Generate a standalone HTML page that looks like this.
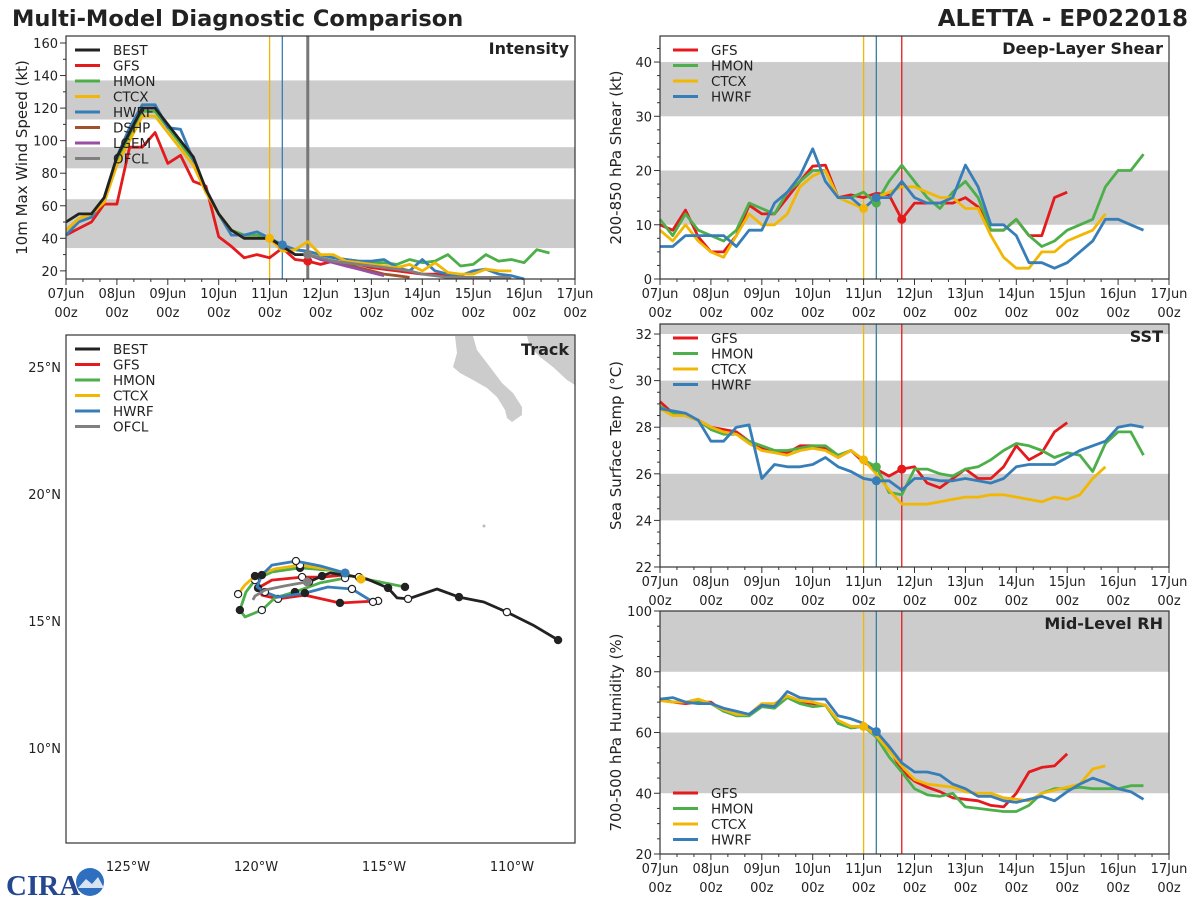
<!DOCTYPE html>
<html><head><meta charset="utf-8"><style>
body{margin:0;background:#fff;width:1200px;height:900px;overflow:hidden;font-family:"Liberation Sans","DejaVu Sans",sans-serif}
svg text{font-family:"DejaVu Sans","Liberation Sans",sans-serif;fill:#222}
svg text.logo{fill:#24478f;font-family:"Liberation Serif",serif}
</style></head><body>
<svg id="chart" width="1200" height="900" viewBox="0 0 1200 900" xmlns="http://www.w3.org/2000/svg">
<text x="12" y="26" font-size="22.5" font-weight="bold">Multi-Model Diagnostic Comparison</text>
<text x="1188" y="26" font-size="23" font-weight="bold" text-anchor="end">ALETTA - EP022018</text>
<g>
<text class="logo" x="6" y="895" font-size="29" font-weight="bold">CIRA</text>
<circle cx="90" cy="882" r="14" fill="#2f6fc0"/>
<path d="M78 888 L86 879 L92 884 L98 877 L104 888 Z" fill="#d8e4f4"/>
</g>
</svg>
<script>
// ---- data ----
const days = ["07Jun","08Jun","09Jun","10Jun","11Jun","12Jun","13Jun","14Jun","15Jun","16Jun","17Jun"];
const intBEST = [50,55,55,65,90,105,120,120,110,100,90,70,55,45,40,40,40,35,30,30];
const intGFS = [42,46,50,61,61,96,96,105,86,91,75,72,41,35,28,30,28,34,27,26,24,26,25,24,22,21,20,19,18,18,17,16,16,16];
const intHMON = [45,52,55,65,88,103,118,118,108,98,88,70,55,45,42,42,40,35,33,32,30,28,27,26,25,25,24,27,25,26,30,23,24,30,26,27,25,33,31];
const intCTCX = [45,52,55,62,85,100,115,115,105,95,85,68,55,45,40,40,40,32,33,38,30,30,26,25,24,23,22,24,20,25,19,18,18,21,20,20];
const intHWRF = [42,50,53,65,90,108,122,122,108,107,88,70,55,42,42,44,40,36,33,32,30,28,27,26,26,27,22,20,27,20,18,17,20,21,18,17,15];
const intDSHP = [30,28,26,24,22,20,18,17,16];
const intLGEM = [30,27,25,23,21,19,17];
const intOFCL = [30,28,26,25,24,23,22,21,20,18,17,16,16,16,16,16,16];
const shrGFS = [10,9,12.7,7.8,5,5,8,13.6,12,12,15,18,20.8,21,15,15.5,15,15.8,15.5,11,14,14,14,14,15,13.3,9,9,11,8,8,15,16];
const shrHMON = [11,8,12,9,8,7,9,14,13,12,16,18,20,20,15,15,16,14,18,21,18,15,13,16,18,15,9,9,11,8,6,7,9,10,11,17,20,20,23];
const shrCTCX = [9,7,10,7,5,4,8,12,10,10,12,17,19,20,15,14,13,15,16,17,17,16,15,15,13,13,8,4,2,2,5,5,7,8,9,12];
const shrHWRF = [6,6,8,8,8,8,6,9,9,14,16,19,24,18,15,15,13,15,15,18,15,14,14,15,21,17,10,10,8,3,3,2,3,5,7,11,11,10,9];
const sstGFS = [29.1,28.6,28.5,28.3,28.0,27.9,27.8,27.4,27.1,27.0,26.9,27.2,27.2,27.1,26.7,27.0,26.5,26.2,25.9,26.2,26.3,25.6,25.4,25.8,26.2,25.8,25.8,26.3,27.2,26.6,26.9,27.8,28.2];
const sstHMON = [28.9,28.6,28.5,28.3,27.9,27.7,27.7,27.4,27.2,27.0,27.0,27.1,27.2,27.2,26.8,27.0,26.6,26.3,25.2,25.1,26.2,26.2,26.0,25.9,26.2,26.3,26.6,27.0,27.3,27.2,27.0,26.7,26.9,26.8,26.1,27.3,27.8,27.8,26.8];
const sstCTCX = [28.8,28.5,28.5,28.3,28.0,27.8,27.7,27.3,27.0,26.9,26.8,27.0,27.1,27.0,26.7,27.0,26.6,26.0,25.3,24.7,24.7,24.7,24.8,24.9,25.0,25.0,25.1,25.1,25.0,24.9,24.8,25.0,24.9,25.1,25.8,26.3];
const sstHWRF = [28.8,28.7,28.6,28.3,27.4,27.4,28.0,28.1,25.8,26.4,26.3,26.3,26.4,26.7,26.3,26.1,25.8,25.7,25.7,25.3,25.8,25.8,25.7,25.7,25.8,25.7,25.6,25.8,26.3,26.4,26.4,26.4,26.7,27.0,27.2,27.4,28.0,28.1,28.0];
const rhGFS = [71,70,69.5,70,70,67,66,66,69,69,72,70,69.5,69,63.5,61.5,62,59,55,47.5,44,42,40.5,38.5,38,37.5,36,35.5,40,47,48.5,49,53];
const rhHMON = [71,70,70,70,69.5,67,65.5,65.5,68.5,68,71.5,69.5,68.5,69,63,61.5,62,58.5,52,47,41.5,39.5,39,40,35.5,35,34.5,34,34,36,40,41.5,41.5,42,41.5,41.5,41.5,42.5,42.5];
const rhCTCX = [70.5,70,70,71,69.5,67.5,66,66,69.5,69.5,72,70.5,70,69,64,62,62,59,54,49,44.5,43,42.5,42,40.5,40,40,38.5,38,37.5,40,41,42,43,48,49];
const rhHWRF = [71,71.5,70,69.5,69.5,68,67,66,69,68.5,73.5,71.5,71,71,65.5,64.5,63,60.3,55.5,50,47,47,46,43,41.5,39,39,37.5,37,38,39,37.5,40.5,43,45,43.5,41.5,40.5,38];
const trkBESTlon = [-108.2,-109.18,-110.2,-111.1,-112.07,-112.93,-114.06,-114.49,-114.84,-115.66,-115.98,-117.11,-117.42,-117.93];
const trkBESTlat = [14.25,14.84,15.35,15.75,15.94,16.26,15.87,15.91,16.30,16.65,16.73,16.89,16.77,16.54];
const trkGFSlon = [-116.52,-117.42,-118.2,-119.38,-119.92,-119.77,-119.14,-118.09,-116.72,-115.23];
const trkGFSlat = [16.81,16.73,16.73,16.61,16.3,16.02,15.87,16.02,15.71,15.79];
const trkHMONlon = [-114.18,-115.16,-115.94,-117.11,-118.28,-119.38,-120.04,-120.39,-120.63,-120.43,-119.77,-119.26,-118.48,-117.5,-116.52];
const trkHMONlat = [16.34,16.54,16.69,17.0,17.09,16.93,16.61,16.14,15.43,15.16,15.43,15.91,16.14,16.5,16.69];
const trkCTCXlon = [-115.9,-116.91,-118.28,-119.26,-120.04,-120.43,-120.7];
const trkCTCXlat = [16.65,17.0,17.2,17.05,16.77,16.42,16.06];
const trkHWRFlon = [-116.52,-117.5,-118.44,-119.38,-119.77,-119.96,-119.65,-119.14,-118.09,-117.19,-116.25,-115.43];
const trkHWRFlat = [16.89,17.17,17.36,17.2,16.81,16.34,16.14,15.94,16.1,16.34,16.26,15.75];
const trkOFCLlon = [-118.0,-118.87,-119.65,-120.04,-120.12];
const trkOFCLlat = [16.54,16.38,16.22,15.98,15.83];

const C = {BEST:"#222222",GFS:"#e41a1c",HMON:"#4daf4a",CTCX:"#f2b705",HWRF:"#377eb8",DSHP:"#a0522d",LGEM:"#984ea3",OFCL:"#808080"};
const NS = "http://www.w3.org/2000/svg";
const svg = document.getElementById('chart');
function mk(tag, attrs, parent){const e=document.createElementNS(NS,tag);for(const k in attrs)e.setAttribute(k,attrs[k]);(parent||svg).appendChild(e);return e;}

function makePanel(name, x0, y0, w, h, ymin, ymax, bands, major, minor, fmt, ytitle, title, xlabY){
  const g = mk('g',{});
  
  
  const xs = i => x0 + i * w / 40;
  const ys = v => y0 + h - (v - ymin) / (ymax - ymin) * h;
  bands.forEach(b => {
    const r = mk('rect',{x:x0,y:ys(Math.min(b[1],ymax)),width:w,height:ys(b[0])-ys(Math.min(b[1],ymax)),fill:"#cccccc"},g);
    
    
  });
  for(let v = Math.ceil(ymin/minor)*minor; v <= ymax+1e-6; v += minor){
    const isMaj = Math.abs(v/major - Math.round(v/major)) < 1e-6;
    mk('line',{x1:x0-(isMaj?6:3),x2:x0,y1:ys(v),y2:ys(v),stroke:"#333","stroke-width":1},g);
    if(isMaj){
      const t = mk('text',{x:x0-8,y:ys(v)+5,"font-size":13,"text-anchor":"end"},g);
      t.textContent = fmt(v);
      
      
    }
  }
  for(let d=0; d<=10; d++){
    const x = x0 + d*w/10;
    mk('line',{x1:x,x2:x,y1:y0+h,y2:y0+h+6,stroke:"#333","stroke-width":1},g);
    if(d<10){for(let k=1;k<3;k++){const xm=x+k*w/30;mk('line',{x1:xm,x2:xm,y1:y0+h,y2:y0+h+3,stroke:"#333","stroke-width":1},g);}}
    const t1 = mk('text',{x:x,y:xlabY,"font-size":13,"text-anchor":"middle"},g);
    t1.textContent = days[d];
    
    
    const t2 = mk('text',{x:x,y:xlabY+19,"font-size":13,"text-anchor":"middle"},g);
    t2.textContent = "00z";
    
    
  }
  const yt = mk('text',{x:0,y:0,"font-size":15,"text-anchor":"middle",transform:`translate(${x0-39},${y0+h/2}) rotate(-90)`},g);
  yt.textContent = ytitle;
  
  
  const pt = mk('text',{x:x0+w-6,y:y0+18,"font-size":16,"font-weight":"bold","text-anchor":"end"},g);
  pt.textContent = title;
  
  
  return {g,xs,ys,x0,y0,w,h};
}
function vline(P, idx, color, sw, nm){
  const l = mk('line',{x1:P.xs(idx),x2:P.xs(idx),y1:P.y0,y2:P.y0+P.h,stroke:color,"stroke-width":sw},P.g);
  
  
}
function series(P, vals, start, color, nm){
  const pts = vals.map((v,i)=>P.xs(start+i).toFixed(1)+","+P.ys(v).toFixed(1)).join(" ");
  const pl = mk('polyline',{points:pts,fill:"none",stroke:color,"stroke-width":2.8,"stroke-linejoin":"round"},P.g);
  
  
}
function dot(P, vals, start, idx, color, nm){
  const c = mk('circle',{cx:P.xs(idx),cy:P.ys(vals[idx-start]),r:4.5,fill:color},P.g);
  
  
}
function frame(P){
  const r = mk('rect',{x:P.x0,y:P.y0,width:P.w,height:P.h,fill:"none",stroke:"#333","stroke-width":1.2},P.g);
  
  
}
function legend(P, names, x, y){
  names.forEach((n,i)=>{
    const l = mk('line',{x1:x,x2:x+25,y1:y+i*15.5,y2:y+i*15.5,stroke:C[n],"stroke-width":3},P.g);
    
    
    const t = mk('text',{x:x+38,y:y+i*15.5+5,"font-size":13.5},P.g);
    t.textContent = n;
    
    
  });
}

const PI = makePanel('intensity',66,36,509,243,15,164.3,[[34,64],[83,96],[113,137]],20,10,v=>String(v),"10m Max Wind Speed (kt)","Intensity",298);
vline(PI,16,"#f2b705",1.3,'init-line-ctcx');
vline(PI,17,"#377eb8",1.3,'init-line-hwrf');
vline(PI,19,"#777",3,'init-line-ofcl');
series(PI,intGFS,0,C.GFS,'intensity-gfs-line');
series(PI,intHMON,0,C.HMON,'intensity-hmon-line');
series(PI,intHWRF,0,C.HWRF,'intensity-hwrf-line');
series(PI,intCTCX,0,C.CTCX,'intensity-ctcx-line');
series(PI,intDSHP,19,C.DSHP,'intensity-dshp-line');
series(PI,intLGEM,19,C.LGEM,'intensity-lgem-line');
series(PI,intOFCL,19,C.OFCL,'intensity-ofcl-line');
series(PI,intBEST,0,C.BEST,'intensity-best-line');
dot(PI,intCTCX,0,16,C.CTCX,'intensity-ctcx-init');
dot(PI,intHWRF,0,17,C.HWRF,'intensity-hwrf-init');
dot(PI,intGFS,0,19,C.GFS,'intensity-gfs-init');
dot(PI,intOFCL,19,19,C.OFCL,'intensity-ofcl-init');
legend(PI,["BEST","GFS","HMON","CTCX","HWRF","DSHP","LGEM","OFCL"],75,50);
frame(PI);

const PS = makePanel('shear',660,36,509,243,0,44.8,[[10,20],[30,40]],10,2.5,v=>String(v),"200-850 hPa Shear (kt)","Deep-Layer Shear",298);
vline(PS,16,"#f2b705",1.3,'init-line-ctcx');
vline(PS,17,"#3a7f9a",1.3,'init-line-hwrf');
vline(PS,19,"#e41a1c",1.3,'init-line-gfs');
series(PS,shrGFS,0,C.GFS,'shear-gfs-line');
series(PS,shrHMON,0,C.HMON,'shear-hmon-line');
series(PS,shrCTCX,0,C.CTCX,'shear-ctcx-line');
series(PS,shrHWRF,0,C.HWRF,'shear-hwrf-line');
dot(PS,shrCTCX,0,16,C.CTCX,'shear-ctcx-init');
dot(PS,shrHMON,0,17,C.HMON,'shear-hmon-init');
dot(PS,shrHWRF,0,17,C.HWRF,'shear-hwrf-init');
dot(PS,shrGFS,0,19,C.GFS,'shear-gfs-init');
legend(PS,["GFS","HMON","CTCX","HWRF"],673,50);
frame(PS);

const PT = makePanel('sst',660,324,509,243,22,32.43,[[24,26],[28,30],[32,34]],2,0.5,v=>String(Math.round(v)),"Sea Surface Temp (°C)","SST",586);
vline(PT,16,"#f2b705",1.3,'init-line-ctcx');
vline(PT,17,"#3a7f9a",1.3,'init-line-hwrf');
vline(PT,19,"#e41a1c",1.3,'init-line-gfs');
series(PT,sstGFS,0,C.GFS,'sst-gfs-line');
series(PT,sstHMON,0,C.HMON,'sst-hmon-line');
series(PT,sstCTCX,0,C.CTCX,'sst-ctcx-line');
series(PT,sstHWRF,0,C.HWRF,'sst-hwrf-line');
dot(PT,sstCTCX,0,16,C.CTCX,'sst-ctcx-init');
dot(PT,sstHMON,0,17,C.HMON,'sst-hmon-init');
dot(PT,sstHWRF,0,17,C.HWRF,'sst-hwrf-init');
dot(PT,sstGFS,0,19,C.GFS,'sst-gfs-init');
legend(PT,["GFS","HMON","CTCX","HWRF"],673,338);
frame(PT);

const PR = makePanel('rh',660,611,509,243,20,100,[[40,60],[80,100]],20,5,v=>String(v),"700-500 hPa Humidity (%)","Mid-Level RH",873);
vline(PR,16,"#f2b705",1.3,'init-line-ctcx');
vline(PR,17,"#3a7f9a",1.3,'init-line-hwrf');
vline(PR,19,"#e41a1c",1.3,'init-line-gfs');
series(PR,rhGFS,0,C.GFS,'rh-gfs-line');
series(PR,rhHMON,0,C.HMON,'rh-hmon-line');
series(PR,rhCTCX,0,C.CTCX,'rh-ctcx-line');
series(PR,rhHWRF,0,C.HWRF,'rh-hwrf-line');
dot(PR,rhCTCX,0,16,C.CTCX,'rh-ctcx-init');
dot(PR,rhHWRF,0,17,C.HWRF,'rh-hwrf-init');
legend(PR,["GFS","HMON","CTCX","HWRF"],673,793);
frame(PR);

const TG = mk('g',{});


const tx = lon => 256 + (lon + 120) * 25.6;
const ty = lat => 621 - (lat - 15) * 25.4;
const baja = mk('path',{d:"M455 336 L473 336 L477 350 L490 367 L502 383 L513 393 L522 407 L522 415 L512 422 L507 418 L505 410 L497 397 L487 388 L473 380 L460 373 L453 367 L457 353 Z",fill:"#cccccc"},TG);


const mex = mk('path',{d:"M527 336 L575 336 L575 385 L567 380 L553 367 L540 357 L530 347 Z",fill:"#cccccc"},TG);


const isl = mk('circle',{cx:484,cy:526,r:1.5,fill:"#bbb"},TG);


function track(lons, lats, color, nm, markers){
  const pts = lons.map((v,i)=>tx(v).toFixed(1)+","+ty(lats[i]).toFixed(1)).join(" ");
  const pl = mk('polyline',{points:pts,fill:"none",stroke:color,"stroke-width":2.8,"stroke-linejoin":"round"},TG);
  
  
  if(markers){
    lons.forEach((v,i)=>{
      if(i%2===1 && i!==lons.length-1) return;
      const c = mk('circle',{cx:tx(v),cy:ty(lats[i]),r:3.6,fill:(i%4===0)?"#222":"#fff",stroke:"#222","stroke-width":1.2},TG);
      
      
    });
  }
}
track(trkGFSlon,trkGFSlat,C.GFS,'track-gfs',true);
track(trkHMONlon,trkHMONlat,C.HMON,'track-hmon',true);
track(trkCTCXlon,trkCTCXlat,C.CTCX,'track-ctcx',true);
track(trkHWRFlon,trkHWRFlat,C.HWRF,'track-hwrf',true);
track(trkOFCLlon,trkOFCLlat,C.OFCL,'track-ofcl',false);
track(trkBESTlon,trkBESTlat,C.BEST,'track-best',true);
[[trkCTCXlon,trkCTCXlat,C.CTCX],[trkHWRFlon,trkHWRFlat,C.HWRF],[trkOFCLlon,trkOFCLlat,C.OFCL]].forEach(a=>{
  const c = mk('circle',{cx:tx(a[0][0]),cy:ty(a[1][0]),r:4.5,fill:a[2]},TG);
  
  
});
const lonTicks = [-125,-120,-115,-110];
const lonLabels = ["125°W","120°W","115°W","110°W"];
const latTicks = [25,20,15,10];
const latLabels = ["25°N","20°N","15°N","10°N"];
lonTicks.forEach((v,i)=>{
  const t = mk('text',{x:tx(v),y:871,"font-size":13,"text-anchor":"middle"},TG);
  t.textContent = lonLabels[i];
  
  
});
latTicks.forEach((v,i)=>{
  const t = mk('text',{x:61,y:ty(v)+5,"font-size":13,"text-anchor":"end"},TG);
  t.textContent = latLabels[i];
  
  
});
["BEST","GFS","HMON","CTCX","HWRF","OFCL"].forEach((n,i)=>{
  const l = mk('line',{x1:75,x2:100,y1:349+i*15.5,y2:349+i*15.5,stroke:C[n],"stroke-width":3},TG);
  
  
  const t = mk('text',{x:113,y:354+i*15.5,"font-size":13.5},TG);
  t.textContent = n;
  
  
});
const tt = mk('text',{x:569,y:355,"font-size":16,"font-weight":"bold","text-anchor":"end"},TG);
tt.textContent = "Track";


const tf = mk('rect',{x:66,y:335,width:509,height:508,fill:"none",stroke:"#333","stroke-width":1.2},TG);


</script>
</body></html>
